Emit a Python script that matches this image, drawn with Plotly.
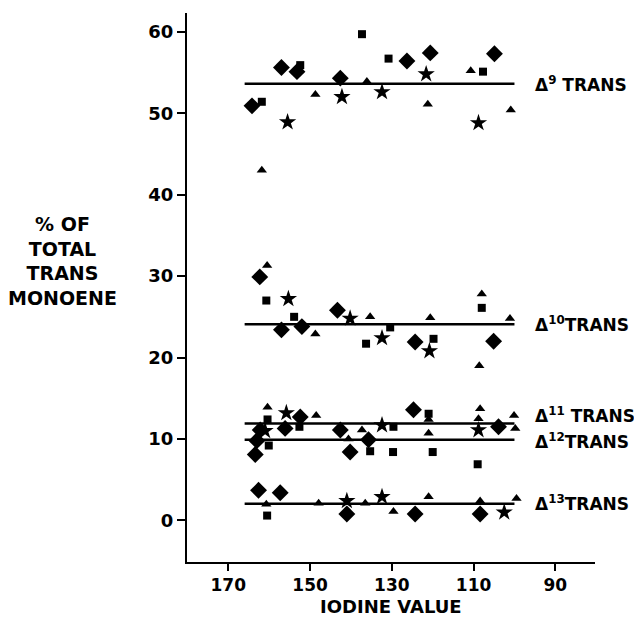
import plotly.graph_objects as go

# Diamond markers (iodine value, % of total trans monoene)
diamond_x = [164.2, 157.0, 153.2, 142.6, 126.3, 120.6, 104.9,
             162.3, 157.0, 152.0, 143.3, 124.3, 105.1,
             162.2, 156.1, 152.4, 163.0, 163.4, 142.6, 140.2, 135.7, 124.7, 103.9,
             162.6, 157.3, 141.0, 124.3, 108.4]
diamond_y = [50.9, 55.6, 55.1, 54.3, 56.4, 57.4, 57.3,
             29.9, 23.4, 23.8, 25.8, 21.9, 22.0,
             11.1, 11.3, 12.7, 9.8, 8.1, 11.1, 8.4, 9.9, 13.6, 11.5,
             3.7, 3.4, 0.8, 0.8, 0.8]

# Square markers
square_x = [161.8, 152.4, 137.3, 130.8, 107.7,
            160.7, 153.9, 136.3, 130.4, 119.8, 108.0,
            160.4, 160.1, 152.6, 135.3, 129.6, 129.7, 121.0, 120.0, 109.0,
            160.5]
square_y = [51.4, 55.9, 59.7, 56.7, 55.1,
            27.0, 25.0, 21.7, 23.7, 22.3, 26.1,
            12.4, 9.2, 11.5, 8.5, 11.5, 8.4, 13.1, 8.4, 6.9,
            0.6]

# Triangle markers
triangle_x = [161.8, 148.7, 136.1, 121.2, 110.7, 100.9,
              160.5, 148.7, 135.3, 120.6, 108.0, 108.6, 101.1,
              160.4, 148.5, 140.6, 137.3, 121.0, 121.0, 108.4, 108.8, 100.1, 99.8,
              160.7, 147.9, 136.5, 129.6, 121.0, 108.4, 99.5]
triangle_y = [43.0, 52.3, 53.9, 51.1, 55.2, 50.4,
              31.3, 22.9, 25.0, 24.9, 27.8, 19.0, 24.8,
              13.9, 12.9, 10.0, 11.1, 12.4, 10.7, 13.7, 12.5, 12.9, 11.3,
              2.0, 2.1, 2.1, 1.1, 2.9, 2.4, 2.7]

# Star markers
star_x = [155.5, 142.2, 132.4, 121.6, 108.8,
          155.3, 140.2, 132.4, 120.8,
          155.8, 161.0, 132.4, 108.8,
          141.0, 132.4, 102.5]
star_y = [48.9, 52.0, 52.6, 54.8, 48.8,
          27.2, 24.8, 22.4, 20.8,
          13.2, 11.0, 11.7, 11.1,
          2.4, 2.9, 1.0]

# Mean lines per isomer
line_names = ["Δ<sup>9</sup> TRANS", "Δ<sup>10</sup>TRANS", "Δ<sup>11</sup> TRANS",
              "Δ<sup>12</sup>TRANS", "Δ<sup>13</sup>TRANS"]
line_levels = [53.6, 24.1, 11.9, 9.9, 2.05]
label_levels = [53.6, 24.1, 12.9, 9.8, 2.1]
line_x_start = 166.0
line_x_end = 100.0

x_ticks = [170, 150, 130, 110, 90]
y_ticks = [0, 10, 20, 30, 40, 50, 60]

FONT = "DejaVu Sans"

fig = go.Figure()

for lvl in line_levels:
    fig.add_trace(go.Scatter(x=[line_x_start, line_x_end], y=[lvl, lvl], mode="lines",
                             line=dict(color="black", width=2.5), showlegend=False,
                             hoverinfo="skip"))

fig.add_trace(go.Scatter(x=diamond_x, y=diamond_y, mode="markers",
                         marker=dict(symbol="diamond", size=13, color="black"), showlegend=False))
fig.add_trace(go.Scatter(x=square_x, y=square_y, mode="markers",
                         marker=dict(symbol="square", size=8, color="black"), showlegend=False))
fig.add_trace(go.Scatter(x=triangle_x, y=triangle_y, mode="markers",
                         marker=dict(symbol="triangle-up", size=9, color="black"), showlegend=False))
fig.add_trace(go.Scatter(x=star_x, y=star_y, mode="markers",
                         marker=dict(symbol="star", size=13, color="black"), showlegend=False))

for name, lvl in zip(line_names, label_levels):
    fig.add_annotation(x=95.4, y=lvl, xref="x", yref="y", text=name, showarrow=False,
                       xanchor="left", yanchor="middle",
                       font=dict(family=FONT, size=17, color="black", weight="bold"))

fig.add_annotation(x=-0.304, y=0.548, xref="paper", yref="paper",
                   text="% OF<br>TOTAL<br>TRANS<br>MONOENE", showarrow=False,
                   xanchor="center", yanchor="middle", align="center",
                   font=dict(family=FONT, size=19, color="black", weight="bold"))

fig.add_annotation(x=0.5, y=-0.081, xref="paper", yref="paper",
                   text="IODINE VALUE", showarrow=False, xanchor="center", yanchor="middle",
                   font=dict(family=FONT, size=18, color="black", weight="bold"))

fig.update_layout(
    width=642, height=618,
    margin=dict(l=179, r=55, t=5, b=64),
    paper_bgcolor="white", plot_bgcolor="white",
    xaxis=dict(range=[180.1, 80.3], tickvals=x_ticks, ticks="outside", ticklen=7,
               tickwidth=2, tickcolor="black", showline=True, linecolor="black",
               linewidth=2, showgrid=False, zeroline=False,
               tickfont=dict(family=FONT, size=17, color="black", weight="bold")),
    yaxis=dict(range=[-5.1, 62.3], tickvals=y_ticks, ticks="outside", ticklen=8,
               tickwidth=2, tickcolor="black", showline=True, linecolor="black",
               linewidth=2, showgrid=False, zeroline=False,
               tickfont=dict(family=FONT, size=18, color="black", weight="bold")),
)

fig.write_html("out.html")
